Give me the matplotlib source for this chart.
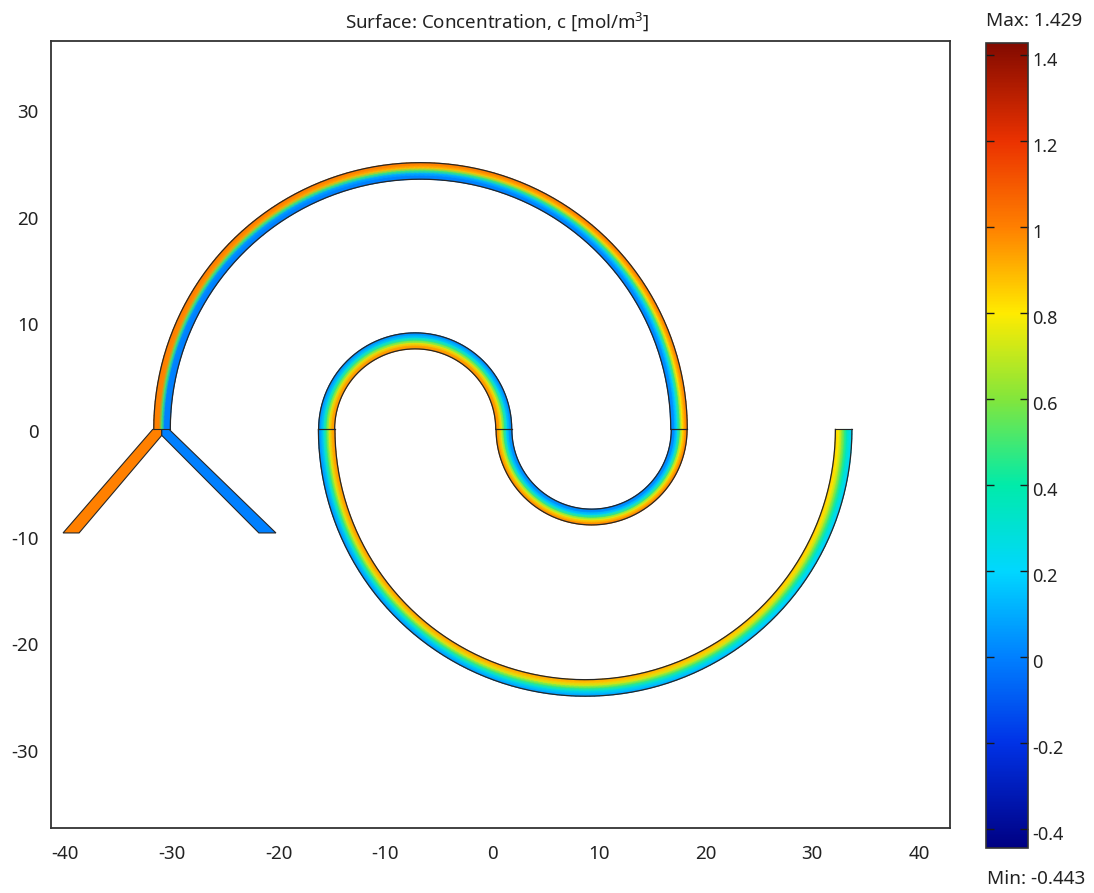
import matplotlib
matplotlib.use('Agg')
import matplotlib.pyplot as plt
import numpy as np
from matplotlib.cm import ScalarMappable
from matplotlib.colors import LinearSegmentedColormap, Normalize
from matplotlib.patches import Polygon
from matplotlib.transforms import ScaledTranslation

plt.rcParams['font.family'] = ['Noto Sans', 'DejaVu Sans']
plt.rcParams['mathtext.default'] = 'regular'
plt.rcParams['axes.unicode_minus'] = False

C_MIN = -0.443
C_MAX = 1.429
TEXT_COLOR = '#222222'

xTicks = [-40, -30, -20, -10, 0, 10, 20, 30, 40]
yTicks = [-30, -20, -10, 0, 10, 20, 30]
colorbarTicks = [-0.4, -0.2, 0, 0.2, 0.4, 0.6, 0.8, 1, 1.2, 1.4]
colorbarLabels = ['-0.4', '-0.2', '0', '0.2', '0.4', '0.6', '0.8', '1', '1.2', '1.4']

# colours
colorValues = [-0.443, -0.2, 0, 0.2, 0.4, 0.6, 0.8, 1, 1.2, 1.429]
colorStops = ['#000082', '#0032e6', '#0080ff', '#00d7ff', '#00ebaa', '#82e63c', '#ffeb00', '#ff8000', '#eb3200',
              '#820a00']

# across the channel, 0 is the outer wall and 1 the inner wall
profilePositions = [0, 1 / 6, 2 / 6, 3 / 6, 4 / 6, 5 / 6, 1]

# inlets: corner points and constant concentration
leftInletX = [-40.2, -38.7, -30.95, -30.95, -31.8]
leftInletY = [-9.7, -9.7, -0.56, 0, 0]
leftInletC = 1.0
rightInletX = [-20.25, -30.25, -30.95, -30.95, -21.85]
rightInletY = [-9.7, 0, 0, -0.56, -9.7]
rightInletC = 0.0

# arcs: centre, radii, angles (deg) at the stations, concentration at the stations
largeTopCentre = -6.7
largeTopRadii = [25.0, 23.45]
largeTopAngles = [180, 165, 90, 0]
largeTopProfiles = [[1.0, 1.0, 1.0, 0.5, 0.0, 0.0, 0.0],
                    [1.0, 1.0, 0.98, 0.5, 0.02, 0.0, 0.0],
                    [1.0, 0.99, 0.88, 0.5, 0.12, 0.01, 0.0],
                    [1.0, 0.95, 0.8, 0.5, 0.2, 0.05, 0.0]]

smallBottomCentre = 9.33
smallBottomRadii = [8.95, 7.47]
smallBottomAngles = [360, 270, 180]
smallBottomProfiles = [[1.0, 0.95, 0.8, 0.5, 0.2, 0.05, 0.0],
                       [1.0, 0.94, 0.78, 0.5, 0.22, 0.06, 0.0],
                       [0.99, 0.93, 0.76, 0.5, 0.24, 0.07, 0.01]]

smallTopCentre = -7.2
smallTopRadii = [9.05, 7.55]
smallTopAngles = [0, 90, 180]
smallTopProfiles = [[0.01, 0.07, 0.24, 0.5, 0.76, 0.93, 0.99],
                    [0.02, 0.08, 0.25, 0.5, 0.75, 0.92, 0.98],
                    [0.03, 0.09, 0.26, 0.5, 0.74, 0.91, 0.97]]

largeBottomCentre = 8.73
largeBottomRadii = [25.0, 23.45]
largeBottomAngles = [180, 270, 360]
largeBottomProfiles = [[0.03, 0.09, 0.26, 0.5, 0.74, 0.91, 0.97],
                       [0.06, 0.13, 0.28, 0.5, 0.72, 0.87, 0.94],
                       [0.2, 0.26, 0.37, 0.52, 0.67, 0.8, 0.85]]


def drawArc(ax, centre, radii, stationAngles, stationProfiles):
    stationAngles = np.array(stationAngles, dtype=float)
    stationProfiles = np.array(stationProfiles)
    angles = np.linspace(stationAngles[0], stationAngles[-1], 181)
    order = np.argsort(stationAngles)
    radius = radii[0] + (radii[1] - radii[0]) * np.array(profilePositions)
    theta, r = np.meshgrid(np.radians(angles), radius)
    x = centre + r * np.cos(theta)
    y = r * np.sin(theta)
    c = np.array([np.interp(angles, stationAngles[order], stationProfiles[order, i])
                  for i in range(len(radius))])
    ax.pcolormesh(x, y, c, shading='gouraud', cmap=cmap, vmin=C_MIN, vmax=C_MAX, rasterized=True)
    ax.plot(x[0], y[0], color='#262626', lw=0.9)
    ax.plot(x[-1], y[-1], color='#262626', lw=0.9)
    ax.plot(x[:, 0], y[:, 0], color='#262626', lw=0.8)
    ax.plot(x[:, -1], y[:, -1], color='#262626', lw=0.8)


norm = Normalize(C_MIN, C_MAX)
cmap = LinearSegmentedColormap.from_list('rainbow_bar', list(zip(norm(colorValues), colorStops)), N=512)

fig = plt.figure(figsize=(10.94, 8.93), dpi=100)
ax = fig.add_axes([51 / 1094, 1 - 828 / 893, 899 / 1094, 787 / 893])
ax.set_xlim(-41.33, 42.92)
ax.set_ylim(-37.35, 36.4)

for inletX, inletY, inletC in [(leftInletX, leftInletY, leftInletC), (rightInletX, rightInletY, rightInletC)]:
    ax.add_patch(Polygon(np.column_stack([inletX, inletY]), closed=True,
                         facecolor=cmap(norm(inletC)), edgecolor='#262626', lw=0.8))

drawArc(ax, largeTopCentre, largeTopRadii, largeTopAngles, largeTopProfiles)
drawArc(ax, smallBottomCentre, smallBottomRadii, smallBottomAngles, smallBottomProfiles)
drawArc(ax, smallTopCentre, smallTopRadii, smallTopAngles, smallTopProfiles)
drawArc(ax, largeBottomCentre, largeBottomRadii, largeBottomAngles, largeBottomProfiles)

ax.set_xticks(xTicks)
ax.set_yticks(yTicks)
ax.tick_params(length=0, labelsize=13.5, labelcolor=TEXT_COLOR)
ax.tick_params(axis='x', pad=12)
ax.tick_params(axis='y', pad=9)
for spine in ax.spines.values():
    spine.set_color('#333333')
    spine.set_linewidth(1.3)

yShift = ScaledTranslation(0, -1.5 / 100, fig.dpi_scale_trans)
for label in ax.get_yticklabels():
    label.set_transform(label.get_transform() + yShift)

cax = fig.add_axes([986 / 1094, 1 - 848 / 893, 42 / 1094, 805.5 / 893])
bar = fig.colorbar(ScalarMappable(norm=norm, cmap=cmap), cax=cax)
bar.set_ticks(colorbarTicks)
bar.set_ticklabels(colorbarLabels)
bar.minorticks_off()
bar.outline.set_edgecolor('#333333')
bar.outline.set_linewidth(1.2)
cax.tick_params(direction='in', left=True, right=True, length=6, width=1.0, color='#1a1a1a',
                labelsize=13, labelcolor=TEXT_COLOR, pad=3)
labelShift = ScaledTranslation(0, -4 / 100, fig.dpi_scale_trans)
for label in cax.get_yticklabels():
    label.set_transform(label.get_transform() + labelShift)

fig.text(497.5 / 1094, 1 - 22 / 893, 'Surface: Concentration, c [mol/m$^3$]', ha='center', va='center',
         fontsize=13.5, color=TEXT_COLOR)
fig.text(1034 / 1094, 1 - 21 / 893, 'Max: 1.429', ha='center', va='center', fontsize=13.6, color=TEXT_COLOR)
fig.text(1036 / 1094, 1 - 879 / 893, 'Min: -0.443', ha='center', va='center', fontsize=13.6, color=TEXT_COLOR)

fig.savefig('out.png', dpi=100)
